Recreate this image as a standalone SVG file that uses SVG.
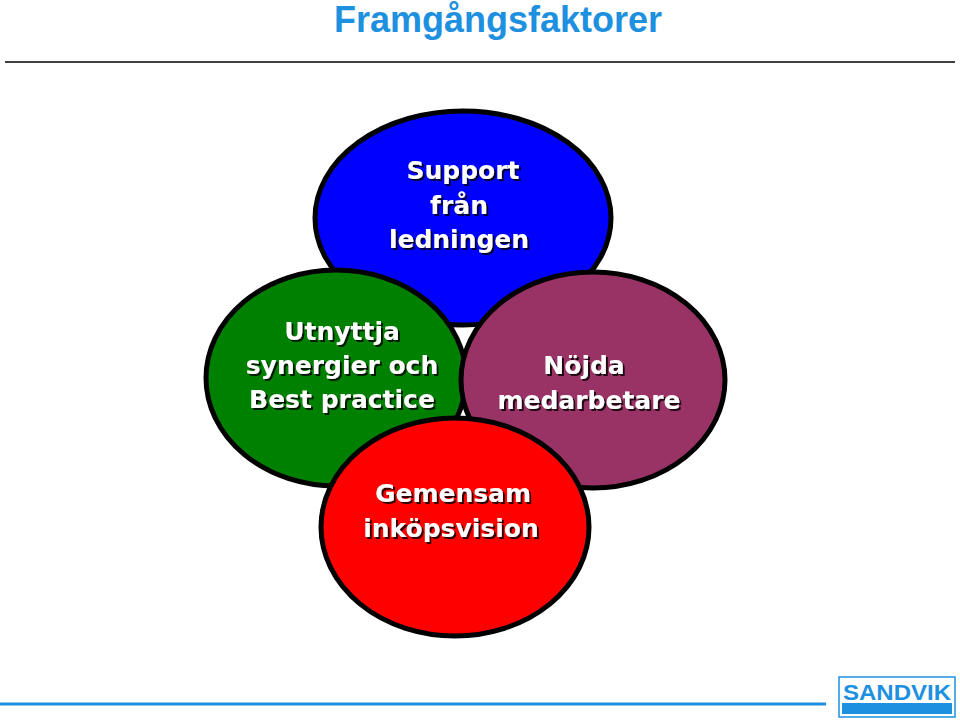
<svg xmlns="http://www.w3.org/2000/svg" width="960" height="722" viewBox="0 0 960 722">
<style>
.e{stroke:#000;stroke-width:5}
.t{font-family:"DejaVu Sans",Verdana,sans-serif;font-weight:bold;font-size:25px;fill:#fff;text-anchor:middle;filter:url(#sh)}
</style>
<defs><filter id="sh" x="-10%" y="-10%" width="130%" height="140%"><feDropShadow dx="2" dy="2" stdDeviation="0.6" flood-color="#000" flood-opacity="0.8"/></filter></defs>
<rect width="960" height="722" fill="#fff"/>
<text x="498" y="32" font-family="Liberation Sans,Arial,sans-serif" font-weight="bold" font-size="36" fill="#1E90E0" text-anchor="middle">Framgångsfaktorer</text>
<line x1="5" y1="62" x2="955" y2="62" stroke="#000" stroke-width="1.5"/>
<g id="support"><ellipse class="e" cx="463" cy="218" rx="148" ry="107" fill="#0000FF"/>
<text class="t" x="463" y="179">Support</text><text class="t" x="459" y="214">från</text><text class="t" x="459" y="248">ledningen</text></g>
<g id="utnyttja"><ellipse class="e" cx="336" cy="378" rx="130" ry="108" fill="#008000"/>
<text class="t" x="342" y="340">Utnyttja</text><text class="t" x="342" y="374">synergier och</text><text class="t" x="342" y="408">Best practice</text></g>
<g id="nojda"><ellipse class="e" cx="593" cy="380" rx="132" ry="108" fill="#993366"/>
<text class="t" x="584" y="374">Nöjda</text><text class="t" x="589" y="409">medarbetare</text></g>
<g id="gemensam"><ellipse class="e" cx="455" cy="527" rx="134" ry="109" fill="#FF0000"/>
<text class="t" x="453" y="502">Gemensam</text><text class="t" x="451" y="537">inköpsvision</text></g>
<line x1="0" y1="704" x2="826" y2="704" stroke="#1E90E0" stroke-width="3"/>
<g id="logo"><rect x="839" y="677" width="116" height="40" fill="#fff" stroke="#1E90E0" stroke-width="1.5"/>
<text x="897" y="700" font-family="Liberation Sans,Arial,sans-serif" font-weight="bold" font-size="22" fill="#1E90E0" text-anchor="middle" textLength="108" lengthAdjust="spacingAndGlyphs">SANDVIK</text>
<rect x="842" y="703" width="110" height="11" fill="#1E90E0"/></g>
</svg>
